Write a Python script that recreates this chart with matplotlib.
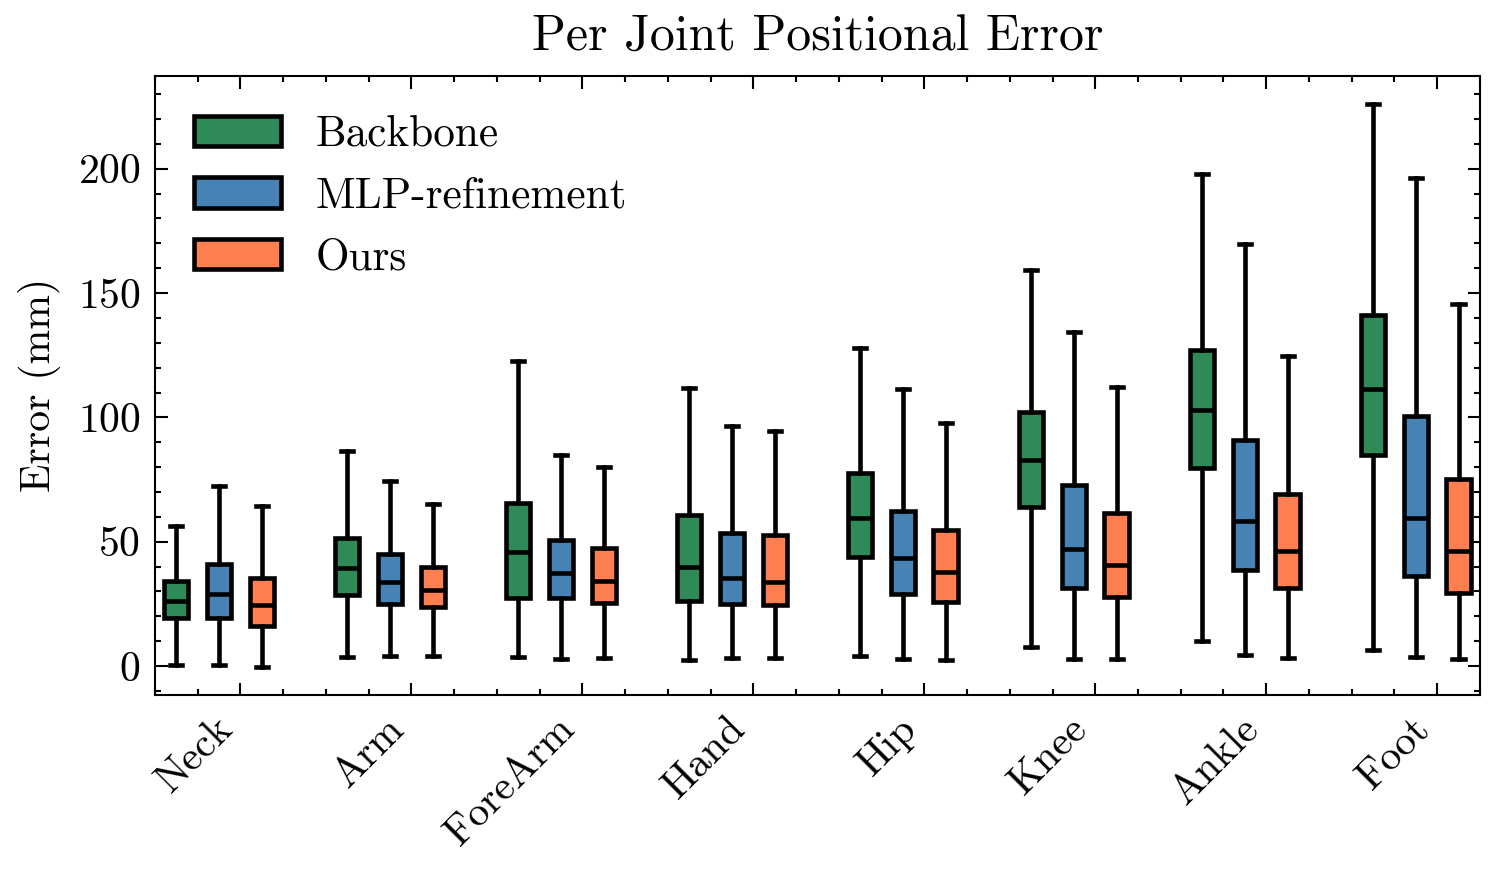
import matplotlib
matplotlib.use("Agg")
import matplotlib.pyplot as plt
import numpy as np
from matplotlib.patches import Patch
from matplotlib.ticker import MultipleLocator, FixedLocator

categories = ['Neck', 'Arm', 'ForeArm', 'Hand', 'Hip', 'Knee', 'Ankle', 'Foot']
models = ['Backbone', 'MLP-refinement', 'Ours']
colors = ['#2E8B57', '#4682B4', '#FF7F50']

backbone_lo = [0.3, 3.5, 3.6, 2.4, 4.0, 7.5, 10.2, 6.4]
backbone_q1 = [19.3, 28.5, 27.5, 26.0, 43.8, 64.0, 79.8, 84.9]
backbone_med = [26.0, 39.5, 46.0, 40.0, 59.6, 83.0, 102.9, 111.6]
backbone_q3 = [34.0, 51.5, 65.5, 60.6, 77.6, 102.0, 127.0, 141.3]
backbone_hi = [56.5, 86.5, 122.5, 112.0, 128.0, 159.3, 198.0, 226.0]

mlp_lo = [0.3, 4.2, 3.0, 3.2, 2.8, 3.0, 4.3, 3.5]
mlp_q1 = [19.3, 25.0, 27.5, 25.0, 29.0, 31.3, 38.5, 36.4]
mlp_med = [29.0, 33.8, 37.5, 35.3, 43.5, 46.9, 58.3, 59.5]
mlp_q3 = [41.0, 45.0, 50.6, 53.5, 62.2, 72.7, 91.0, 100.5]
mlp_hi = [72.5, 74.5, 85.0, 96.4, 111.4, 134.3, 169.6, 196.2]

ours_lo = [-0.3, 4.2, 3.4, 3.2, 2.5, 3.0, 3.2, 2.7]
ours_q1 = [16.2, 23.8, 25.3, 24.5, 25.7, 27.8, 31.3, 29.3]
ours_med = [24.5, 30.5, 34.3, 33.7, 37.8, 40.5, 46.4, 46.4]
ours_q3 = [35.5, 40.0, 47.4, 52.6, 54.6, 61.5, 69.0, 75.4]
ours_hi = [64.5, 65.0, 80.0, 94.4, 97.6, 112.4, 124.8, 145.8]

series = [
    (backbone_lo, backbone_q1, backbone_med, backbone_q3, backbone_hi),
    (mlp_lo, mlp_q1, mlp_med, mlp_q3, mlp_hi),
    (ours_lo, ours_q1, ours_med, ours_q3, ours_hi),
]

plt.rcParams['font.family'] = ['cmr10', 'DejaVu Serif']
plt.rcParams['axes.formatter.use_mathtext'] = True
plt.rcParams['mathtext.fontset'] = 'cm'
plt.rcParams['axes.linewidth'] = 0.5
plt.rcParams['xtick.direction'] = 'in'
plt.rcParams['ytick.direction'] = 'in'
plt.rcParams['xtick.top'] = True
plt.rcParams['ytick.right'] = True
plt.rcParams['xtick.major.size'] = 3
plt.rcParams['ytick.major.size'] = 3
plt.rcParams['xtick.minor.size'] = 1.5
plt.rcParams['ytick.minor.size'] = 1.5
plt.rcParams['xtick.major.width'] = 0.5
plt.rcParams['ytick.major.width'] = 0.5
plt.rcParams['xtick.minor.width'] = 0.5
plt.rcParams['ytick.minor.width'] = 0.5
plt.rcParams['font.size'] = 10

fig = plt.figure(figsize=(4.99, 2.91), dpi=300)
ax = fig.add_axes([0.1035, 0.204, 0.8851, 0.709])

lw = 1.1
for k, (lo, q1, med, q3, hi) in enumerate(series):
    stats = []
    for i in range(len(categories)):
        stats.append(dict(whislo=lo[i], q1=q1[i], med=med[i], q3=q3[i], whishi=hi[i], fliers=[]))
    pos = [i * 4 + k for i in range(len(categories))]
    ax.bxp(stats, positions=pos, widths=0.57, patch_artist=True, showfliers=False,
           manage_ticks=False,
           boxprops=dict(facecolor=colors[k], edgecolor='black', linewidth=lw),
           medianprops=dict(color='black', linewidth=lw),
           whiskerprops=dict(color='black', linewidth=lw),
           capprops=dict(color='black', linewidth=lw))

ax.set_xlim(-0.5, 30.5)
ax.relim()
ax.autoscale(axis='y')
ax.margins(y=0.05)
ax.xaxis.set_major_locator(FixedLocator([i * 4 + 1.5 for i in range(len(categories))]))
ax.xaxis.set_minor_locator(FixedLocator([x + 0.5 for x in range(-1, 31)]))
ax.set_xticklabels(categories, rotation=45, ha='right')
ax.yaxis.set_major_locator(MultipleLocator(50))
ax.yaxis.set_minor_locator(MultipleLocator(10))
ax.set_ylabel('Error (mm)')
ax.set_title('Per Joint Positional Error', fontsize=12)

handles = [Patch(facecolor=c, edgecolor='black', linewidth=lw, label=m) for c, m in zip(colors, models)]
ax.legend(handles=handles, loc='upper left', frameon=False, fontsize=10.4)

fig.savefig('out.png', dpi=300)
